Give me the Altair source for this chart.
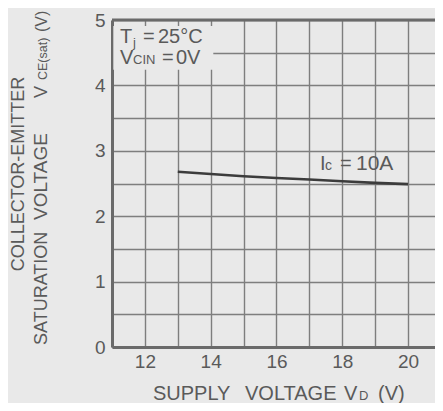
import altair as alt
import pandas as pd

# ---- data ----
vd = [13, 14, 15, 16, 17, 18, 19, 20]
vce = [2.68, 2.645, 2.61, 2.585, 2.56, 2.535, 2.51, 2.49]
x_grid = [11, 12, 13, 14, 15, 16, 17, 18, 19, 20]
y_grid = [0, 0.5, 1, 1.5, 2, 2.5, 3, 3.5, 4, 4.5, 5]

df = pd.DataFrame({"vd": vd, "vce": vce})
one = pd.DataFrame({"k": [0]})

FONT = "Liberation Sans"
TXT = "#5a5a5a"
GRID = "#7e7e7e"
BG = "#e9e9e9"

# the reference frame is cropped at the right edge, just after 20.8 V
xs = alt.Scale(domain=[11, 20.82], nice=False, zero=False)
ys = alt.Scale(domain=[0, 5], nice=False)

x_axis = alt.Axis(values=x_grid, title=None, ticks=False, labelPadding=5,
                  labelOverlap=False, labelFlush=False,
                  labelExpr="datum.value % 2 == 0 ? datum.label : ''",
                  labelFont=FONT, labelFontSize=19, labelColor=TXT,
                  grid=True, gridColor=GRID, gridWidth=1.4, gridOpacity=1,
                  domainColor="#6a6a6a", domainWidth=3)
y_axis = alt.Axis(values=y_grid, title=None, ticks=False, labelPadding=7,
                  labelOverlap=False, labelFlush=False,
                  labelExpr="datum.value % 1 == 0 ? format(datum.value, 'd') : ''",
                  labelFont=FONT, labelFontSize=19, labelColor=TXT,
                  grid=True, gridColor=GRID, gridWidth=1.4, gridOpacity=1,
                  domainColor="#6a6a6a", domainWidth=3)

line = alt.Chart(df).mark_line(color="#3c3c3c", strokeWidth=2.6).encode(
    x=alt.X("vd:Q", scale=xs, axis=x_axis),
    y=alt.Y("vce:Q", scale=ys, axis=y_axis),
)

top_border = alt.Chart(one).mark_rule(color="#6a6a6a", strokeWidth=3).encode(
    y=alt.datum(5, scale=ys, axis=y_axis)
)

# box behind the condition text (hides the grid)
box = alt.Chart(pd.DataFrame({"x": [11.04], "x2": [14.08], "y": [4.24], "y2": [4.91]})).mark_rect(
    fill=BG
).encode(x=alt.X("x:Q", scale=xs, axis=x_axis), x2="x2:Q",
         y=alt.Y("y:Q", scale=ys, axis=y_axis), y2="y2:Q")

# text pieces: (text, x px, y px, size, angle, align)
pieces = [
    ("T", 8, 23, 20, 0, "left"),
    ("j", 21, 27, 13, 0, "left"),
    ("=", 31, 23, 20, 0, "left"),
    ("25°C", 46, 23, 20, 0, "left"),
    ("V", 8, 44, 20, 0, "left"),
    ("CIN", 21, 44, 13, 0, "left"),
    ("=", 50, 44, 20, 0, "left"),
    ("0V", 64, 44, 20, 0, "left"),
    ("I", 208, 150, 20, 0, "left"),
    ("c", 213, 150, 14, 0, "left"),
    ("=", 228, 150, 20, 0, "left"),
    ("10A", 244, 150, 21, 0, "left"),
    ("SUPPLY", 41, 380, 20, 0, "left"),
    ("VOLTAGE", 133, 380, 20, 0, "left"),
    ("V", 232, 380, 20, 0, "left"),
    ("D", 247, 380, 13, 0, "left"),
    ("(V)", 266, 380, 20, 0, "left"),
    ("COLLECTOR-EMITTER", -88, 154, 18, 270, "center"),
    ("SATURATION", -65, 325, 18, 270, "left"),
    ("VOLTAGE", -65, 200, 19, 270, "left"),
    ("V", -65, 78, 18, 270, "left"),
    ("CE(sat)", -65, 60, 12.5, 270, "left"),
    ("(V)", -65, 12, 16, 270, "left"),
]

texts = []
for t, px, py, sz, ang, al in pieces:
    texts.append(
        alt.Chart(one).mark_text(
            text=t, font=FONT, fontSize=sz, fontWeight="normal", color=TXT,
            angle=ang, align=al, baseline="alphabetic"
        ).encode(x=alt.value(px), y=alt.value(py))
    )

chart = alt.layer(box, line, top_border, *texts).properties(
    width=323, height=327, background=BG,
    autosize=alt.AutoSizeParams(type="none"),
    padding={"left": 104, "top": 12, "right": 0, "bottom": 56},
).configure_view(stroke=None)

chart.save("out.html", embed_options={"renderer": "svg", "actions": False})
